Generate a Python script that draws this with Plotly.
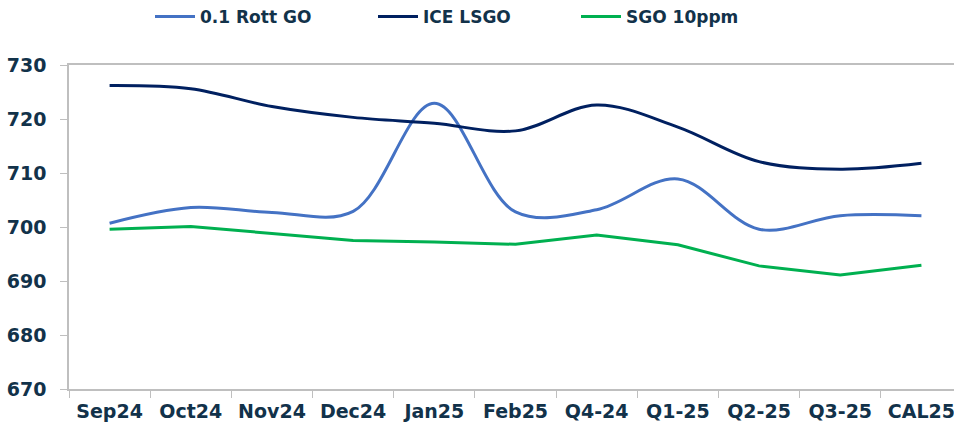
import plotly.graph_objects as go

categories = ["Sep24", "Oct24", "Nov24", "Dec24", "Jan25", "Feb25", "Q4-24", "Q1-25", "Q2-25", "Q3-25", "CAL25"]
rott_go = [700.7, 703.6, 702.7, 702.9, 722.9, 702.8, 703.2, 708.9, 699.6, 702.1, 702.1]
ice_lsgo = [726.2, 725.6, 722.3, 720.3, 719.2, 717.8, 722.6, 718.5, 712.1, 710.7, 711.8]
sgo_10ppm = [699.6, 700.1, 698.8, 697.5, 697.2, 696.8, 698.5, 696.7, 692.8, 691.1, 692.9]

y_ticks = [670, 680, 690, 700, 710, 720, 730]

TEXT = "#12324a"
GRID = "#bfbfbf"
FONT = "DejaVu Sans"

# plot area in screen px: x 69..(right edge), y 65..389
L, T, B, R = 69, 65, 35, 0
PW = 954 - L - R
PH = 424 - T - B


def px_to_paper(px):
    return (px - L) / PW


fig = go.Figure()
fig.add_trace(go.Scatter(x=categories, y=rott_go, name="0.1 Rott GO", mode="lines", legend="legend",
                         line=dict(color="#4472C4", width=3, shape="spline", smoothing=1.0)))
fig.add_trace(go.Scatter(x=categories, y=ice_lsgo, name="ICE LSGO", mode="lines", legend="legend2",
                         line=dict(color="#002060", width=3, shape="spline", smoothing=1.0)))
fig.add_trace(go.Scatter(x=categories, y=sgo_10ppm, name="SGO 10ppm", mode="lines", legend="legend3",
                         line=dict(color="#00B050", width=3)))

legend_font = dict(family=FONT, size=17, color=TEXT, weight="bold")
legend_y = 1 + (T - 17) / PH


def leg(px):
    return dict(orientation="h", x=px_to_paper(px), xanchor="left", y=legend_y, yanchor="middle",
                font=legend_font, itemwidth=40, bgcolor="rgba(0,0,0,0)")


fig.update_layout(
    template="none",
    width=954, height=424,
    margin=dict(l=L, r=R, t=T, b=B, autoexpand=False),
    paper_bgcolor="white", plot_bgcolor="white",
    font=dict(family=FONT, color=TEXT),
    legend=leg(150), legend2=leg(373), legend3=leg(576),
    showlegend=True,
)
fig.update_xaxes(
    type="category", range=[-0.5, 10.5 - 8 / 81],
    showline=True, linecolor=GRID, linewidth=1.5, mirror=True,
    showgrid=False, zeroline=False,
    ticks="outside", tickson="boundaries", ticklen=7, tickcolor=GRID, tickwidth=1,
    tickfont=dict(family=FONT, size=19, color=TEXT, weight="bold"),
    ticklabelstandoff=4, automargin=False,
)
fig.update_yaxes(
    range=[670, 730], tickvals=y_ticks,
    showline=True, linecolor=GRID, linewidth=1.5,
    showgrid=False, zeroline=False,
    ticks="outside", ticklen=7, tickcolor=GRID, tickwidth=1,
    tickfont=dict(family=FONT, size=19, color=TEXT, weight="bold"),
    ticklabelstandoff=10, automargin=False,
)

fig.write_html(
    "out.html",
    config={"displayModeBar": False},
    post_script="document.body.style.margin='0';document.body.style.overflow='hidden';",
)
